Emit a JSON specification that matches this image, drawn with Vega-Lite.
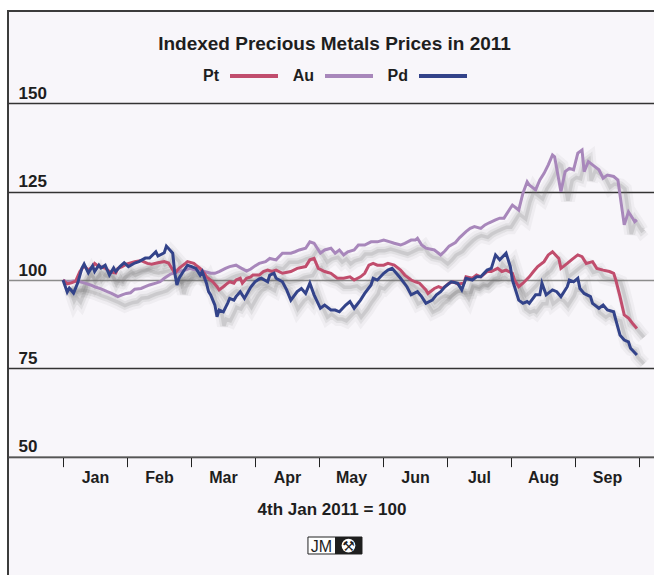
{
  "$schema": "https://vega.github.io/schema/vega-lite/v6.json",
  "width": 647,
  "height": 566,
  "autosize": {"type": "none"},
  "padding": {"left": 8, "top": 11, "right": 0, "bottom": 0},
  "background": "#ffffff",
  "config": {
    "font": "Liberation Sans",
    "view": {"fill": "#f8f6fa", "stroke": "#3c3c3c", "strokeWidth": 2}
  },
  "title": {
    "text": "Indexed Precious Metals Prices in 2011",
    "fontSize": 19,
    "fontWeight": "bold",
    "color": "#1e1e1e",
    "anchor": "middle",
    "frame": "group",
    "baseline": "alphabetic",
    "offset": -58,
    "dx": 3
  },
  "datasets": {
    "metals": [
      {"date": "2011-01-01", "metal": "Au", "index": 100},
      {"date": "2011-01-03", "metal": "Au", "index": 99.4},
      {"date": "2011-01-06", "metal": "Au", "index": 99.7},
      {"date": "2011-01-09", "metal": "Au", "index": 99.5},
      {"date": "2011-01-11", "metal": "Au", "index": 99.2},
      {"date": "2011-01-14", "metal": "Au", "index": 98.6},
      {"date": "2011-01-16", "metal": "Au", "index": 98.1},
      {"date": "2011-01-19", "metal": "Au", "index": 97.5},
      {"date": "2011-01-22", "metal": "Au", "index": 96.7},
      {"date": "2011-01-24", "metal": "Au", "index": 96.2},
      {"date": "2011-01-27", "metal": "Au", "index": 95.3},
      {"date": "2011-01-29", "metal": "Au", "index": 95.8},
      {"date": "2011-01-31", "metal": "Au", "index": 96.2},
      {"date": "2011-02-02", "metal": "Au", "index": 96.4},
      {"date": "2011-02-04", "metal": "Au", "index": 97.4},
      {"date": "2011-02-07", "metal": "Au", "index": 97.6},
      {"date": "2011-02-09", "metal": "Au", "index": 98.1},
      {"date": "2011-02-11", "metal": "Au", "index": 98.6},
      {"date": "2011-02-14", "metal": "Au", "index": 99.1},
      {"date": "2011-02-16", "metal": "Au", "index": 99.5},
      {"date": "2011-02-18", "metal": "Au", "index": 100.5},
      {"date": "2011-02-21", "metal": "Au", "index": 101.7},
      {"date": "2011-02-25", "metal": "Au", "index": 102.4},
      {"date": "2011-02-28", "metal": "Au", "index": 102.8},
      {"date": "2011-03-02", "metal": "Au", "index": 103.3},
      {"date": "2011-03-05", "metal": "Au", "index": 102.8},
      {"date": "2011-03-07", "metal": "Au", "index": 102.8},
      {"date": "2011-03-09", "metal": "Au", "index": 102.4},
      {"date": "2011-03-12", "metal": "Au", "index": 101.9},
      {"date": "2011-03-14", "metal": "Au", "index": 101.9},
      {"date": "2011-03-16", "metal": "Au", "index": 102.4},
      {"date": "2011-03-19", "metal": "Au", "index": 103.3},
      {"date": "2011-03-21", "metal": "Au", "index": 103.8},
      {"date": "2011-03-24", "metal": "Au", "index": 104.2},
      {"date": "2011-03-26", "metal": "Au", "index": 103.5},
      {"date": "2011-03-29", "metal": "Au", "index": 102.5},
      {"date": "2011-03-31", "metal": "Au", "index": 103.1},
      {"date": "2011-04-02", "metal": "Au", "index": 104.0},
      {"date": "2011-04-04", "metal": "Au", "index": 104.7},
      {"date": "2011-04-07", "metal": "Au", "index": 105.2},
      {"date": "2011-04-09", "metal": "Au", "index": 106.1},
      {"date": "2011-04-12", "metal": "Au", "index": 105.7},
      {"date": "2011-04-15", "metal": "Au", "index": 107.6},
      {"date": "2011-04-19", "metal": "Au", "index": 107.6},
      {"date": "2011-04-21", "metal": "Au", "index": 108.0},
      {"date": "2011-04-23", "metal": "Au", "index": 108.5},
      {"date": "2011-04-26", "metal": "Au", "index": 109.0},
      {"date": "2011-04-28", "metal": "Au", "index": 110.8},
      {"date": "2011-04-30", "metal": "Au", "index": 110.4},
      {"date": "2011-05-03", "metal": "Au", "index": 107.6},
      {"date": "2011-05-05", "metal": "Au", "index": 108.5},
      {"date": "2011-05-08", "metal": "Au", "index": 109.0},
      {"date": "2011-05-10", "metal": "Au", "index": 107.6},
      {"date": "2011-05-12", "metal": "Au", "index": 108.5},
      {"date": "2011-05-14", "metal": "Au", "index": 107.1},
      {"date": "2011-05-16", "metal": "Au", "index": 108.0},
      {"date": "2011-05-19", "metal": "Au", "index": 108.5},
      {"date": "2011-05-21", "metal": "Au", "index": 109.9},
      {"date": "2011-05-24", "metal": "Au", "index": 109.9},
      {"date": "2011-05-27", "metal": "Au", "index": 110.8},
      {"date": "2011-05-30", "metal": "Au", "index": 110.8},
      {"date": "2011-06-02", "metal": "Au", "index": 111.3},
      {"date": "2011-06-05", "metal": "Au", "index": 110.8},
      {"date": "2011-06-07", "metal": "Au", "index": 110.4},
      {"date": "2011-06-10", "metal": "Au", "index": 109.9},
      {"date": "2011-06-12", "metal": "Au", "index": 110.4},
      {"date": "2011-06-15", "metal": "Au", "index": 111.3},
      {"date": "2011-06-17", "metal": "Au", "index": 111.3},
      {"date": "2011-06-18", "metal": "Au", "index": 111.8},
      {"date": "2011-06-20", "metal": "Au", "index": 109.9},
      {"date": "2011-06-22", "metal": "Au", "index": 109.0},
      {"date": "2011-06-26", "metal": "Au", "index": 108.5},
      {"date": "2011-06-29", "metal": "Au", "index": 107.1},
      {"date": "2011-07-01", "metal": "Au", "index": 108.2},
      {"date": "2011-07-03", "metal": "Au", "index": 109.6},
      {"date": "2011-07-06", "metal": "Au", "index": 110.6},
      {"date": "2011-07-08", "metal": "Au", "index": 112.0},
      {"date": "2011-07-11", "metal": "Au", "index": 113.7},
      {"date": "2011-07-13", "metal": "Au", "index": 114.6},
      {"date": "2011-07-15", "metal": "Au", "index": 115.1},
      {"date": "2011-07-18", "metal": "Au", "index": 114.6},
      {"date": "2011-07-20", "metal": "Au", "index": 115.6},
      {"date": "2011-07-22", "metal": "Au", "index": 116.2},
      {"date": "2011-07-25", "metal": "Au", "index": 117.0},
      {"date": "2011-07-27", "metal": "Au", "index": 117.5},
      {"date": "2011-07-29", "metal": "Au", "index": 117.5},
      {"date": "2011-08-01", "metal": "Au", "index": 120.3},
      {"date": "2011-08-02", "metal": "Au", "index": 121.2},
      {"date": "2011-08-05", "metal": "Au", "index": 119.8},
      {"date": "2011-08-07", "metal": "Au", "index": 124.6},
      {"date": "2011-08-09", "metal": "Au", "index": 127.8},
      {"date": "2011-08-10", "metal": "Au", "index": 126.9},
      {"date": "2011-08-13", "metal": "Au", "index": 125.5},
      {"date": "2011-08-15", "metal": "Au", "index": 128.3},
      {"date": "2011-08-17", "metal": "Au", "index": 130.2},
      {"date": "2011-08-19", "metal": "Au", "index": 132.6},
      {"date": "2011-08-21", "metal": "Au", "index": 135.4},
      {"date": "2011-08-22", "metal": "Au", "index": 134.9},
      {"date": "2011-08-25", "metal": "Au", "index": 125.0},
      {"date": "2011-08-27", "metal": "Au", "index": 130.7},
      {"date": "2011-08-29", "metal": "Au", "index": 131.6},
      {"date": "2011-08-31", "metal": "Au", "index": 131.2},
      {"date": "2011-09-02", "metal": "Au", "index": 135.9},
      {"date": "2011-09-04", "metal": "Au", "index": 136.8},
      {"date": "2011-09-05", "metal": "Au", "index": 130.7},
      {"date": "2011-09-07", "metal": "Au", "index": 133.5},
      {"date": "2011-09-09", "metal": "Au", "index": 132.6},
      {"date": "2011-09-12", "metal": "Au", "index": 131.2},
      {"date": "2011-09-14", "metal": "Au", "index": 128.8},
      {"date": "2011-09-16", "metal": "Au", "index": 129.7},
      {"date": "2011-09-19", "metal": "Au", "index": 129.3},
      {"date": "2011-09-21", "metal": "Au", "index": 128.3},
      {"date": "2011-09-22", "metal": "Au", "index": 124.1},
      {"date": "2011-09-24", "metal": "Au", "index": 115.6},
      {"date": "2011-09-26", "metal": "Au", "index": 119.3},
      {"date": "2011-09-27", "metal": "Au", "index": 118.4},
      {"date": "2011-09-29", "metal": "Au", "index": 116.5},
      {"date": "2011-09-30", "metal": "Au", "index": 117.0},
      {"date": "2011-01-01", "metal": "Pt", "index": 100},
      {"date": "2011-01-03", "metal": "Pt", "index": 98.9},
      {"date": "2011-01-05", "metal": "Pt", "index": 99.2},
      {"date": "2011-01-07", "metal": "Pt", "index": 99.7},
      {"date": "2011-01-09", "metal": "Pt", "index": 102.4},
      {"date": "2011-01-11", "metal": "Pt", "index": 104.0},
      {"date": "2011-01-13", "metal": "Pt", "index": 102.8},
      {"date": "2011-01-15", "metal": "Pt", "index": 103.8},
      {"date": "2011-01-16", "metal": "Pt", "index": 104.7},
      {"date": "2011-01-18", "metal": "Pt", "index": 103.8},
      {"date": "2011-01-21", "metal": "Pt", "index": 103.4},
      {"date": "2011-01-23", "metal": "Pt", "index": 102.4},
      {"date": "2011-01-26", "metal": "Pt", "index": 102.0},
      {"date": "2011-01-27", "metal": "Pt", "index": 103.3},
      {"date": "2011-01-29", "metal": "Pt", "index": 103.8},
      {"date": "2011-01-31", "metal": "Pt", "index": 104.5},
      {"date": "2011-02-04", "metal": "Pt", "index": 105.2},
      {"date": "2011-02-07", "metal": "Pt", "index": 105.5},
      {"date": "2011-02-10", "metal": "Pt", "index": 104.7},
      {"date": "2011-02-12", "metal": "Pt", "index": 104.5},
      {"date": "2011-02-15", "metal": "Pt", "index": 104.9},
      {"date": "2011-02-18", "metal": "Pt", "index": 105.2},
      {"date": "2011-02-20", "metal": "Pt", "index": 104.8},
      {"date": "2011-02-23", "metal": "Pt", "index": 101.9},
      {"date": "2011-02-25", "metal": "Pt", "index": 103.3},
      {"date": "2011-02-28", "metal": "Pt", "index": 104.7},
      {"date": "2011-03-01", "metal": "Pt", "index": 105.2},
      {"date": "2011-03-04", "metal": "Pt", "index": 104.7},
      {"date": "2011-03-05", "metal": "Pt", "index": 104.2},
      {"date": "2011-03-07", "metal": "Pt", "index": 103.3},
      {"date": "2011-03-09", "metal": "Pt", "index": 101.9},
      {"date": "2011-03-10", "metal": "Pt", "index": 100.9},
      {"date": "2011-03-13", "metal": "Pt", "index": 99.5},
      {"date": "2011-03-15", "metal": "Pt", "index": 98.1},
      {"date": "2011-03-16", "metal": "Pt", "index": 97.2},
      {"date": "2011-03-18", "metal": "Pt", "index": 98.1},
      {"date": "2011-03-20", "metal": "Pt", "index": 99.1},
      {"date": "2011-03-21", "metal": "Pt", "index": 99.5},
      {"date": "2011-03-23", "metal": "Pt", "index": 99.1},
      {"date": "2011-03-24", "metal": "Pt", "index": 100},
      {"date": "2011-03-26", "metal": "Pt", "index": 100.5},
      {"date": "2011-03-27", "metal": "Pt", "index": 99.1},
      {"date": "2011-03-29", "metal": "Pt", "index": 100.5},
      {"date": "2011-03-31", "metal": "Pt", "index": 100.9},
      {"date": "2011-04-01", "metal": "Pt", "index": 101.4},
      {"date": "2011-04-04", "metal": "Pt", "index": 101.4},
      {"date": "2011-04-06", "metal": "Pt", "index": 102.4},
      {"date": "2011-04-08", "metal": "Pt", "index": 102.8},
      {"date": "2011-04-10", "metal": "Pt", "index": 102.4},
      {"date": "2011-04-12", "metal": "Pt", "index": 102.8},
      {"date": "2011-04-15", "metal": "Pt", "index": 101.9},
      {"date": "2011-04-19", "metal": "Pt", "index": 102.4},
      {"date": "2011-04-22", "metal": "Pt", "index": 103.3},
      {"date": "2011-04-26", "metal": "Pt", "index": 103.8},
      {"date": "2011-04-28", "metal": "Pt", "index": 105.7},
      {"date": "2011-04-30", "metal": "Pt", "index": 106.1},
      {"date": "2011-05-02", "metal": "Pt", "index": 103.3},
      {"date": "2011-05-05", "metal": "Pt", "index": 102.4},
      {"date": "2011-05-08", "metal": "Pt", "index": 101.9},
      {"date": "2011-05-11", "metal": "Pt", "index": 100.5},
      {"date": "2011-05-14", "metal": "Pt", "index": 100.5},
      {"date": "2011-05-17", "metal": "Pt", "index": 100.9},
      {"date": "2011-05-19", "metal": "Pt", "index": 100},
      {"date": "2011-05-22", "metal": "Pt", "index": 100.9},
      {"date": "2011-05-24", "metal": "Pt", "index": 101.9},
      {"date": "2011-05-26", "metal": "Pt", "index": 104.2},
      {"date": "2011-05-28", "metal": "Pt", "index": 104.7},
      {"date": "2011-05-30", "metal": "Pt", "index": 104.2},
      {"date": "2011-06-02", "metal": "Pt", "index": 104.2},
      {"date": "2011-06-04", "metal": "Pt", "index": 104.7},
      {"date": "2011-06-07", "metal": "Pt", "index": 104.2},
      {"date": "2011-06-10", "metal": "Pt", "index": 102.8},
      {"date": "2011-06-12", "metal": "Pt", "index": 101.4},
      {"date": "2011-06-15", "metal": "Pt", "index": 100},
      {"date": "2011-06-17", "metal": "Pt", "index": 99.5},
      {"date": "2011-06-19", "metal": "Pt", "index": 99.1},
      {"date": "2011-06-22", "metal": "Pt", "index": 97.2},
      {"date": "2011-06-23", "metal": "Pt", "index": 96.2},
      {"date": "2011-06-26", "metal": "Pt", "index": 97.6},
      {"date": "2011-06-28", "metal": "Pt", "index": 98.1},
      {"date": "2011-06-30", "metal": "Pt", "index": 97.6},
      {"date": "2011-07-03", "metal": "Pt", "index": 99.1},
      {"date": "2011-07-05", "metal": "Pt", "index": 99.5},
      {"date": "2011-07-07", "metal": "Pt", "index": 98.9},
      {"date": "2011-07-10", "metal": "Pt", "index": 99.1},
      {"date": "2011-07-11", "metal": "Pt", "index": 100.9},
      {"date": "2011-07-14", "metal": "Pt", "index": 100.5},
      {"date": "2011-07-16", "metal": "Pt", "index": 101.4},
      {"date": "2011-07-18", "metal": "Pt", "index": 100.9},
      {"date": "2011-07-21", "metal": "Pt", "index": 102.4},
      {"date": "2011-07-23", "metal": "Pt", "index": 102.4},
      {"date": "2011-07-26", "metal": "Pt", "index": 103.3},
      {"date": "2011-07-28", "metal": "Pt", "index": 102.4},
      {"date": "2011-07-30", "metal": "Pt", "index": 102.8},
      {"date": "2011-08-02", "metal": "Pt", "index": 101.9},
      {"date": "2011-08-03", "metal": "Pt", "index": 100},
      {"date": "2011-08-05", "metal": "Pt", "index": 98.1},
      {"date": "2011-08-07", "metal": "Pt", "index": 99.1},
      {"date": "2011-08-10", "metal": "Pt", "index": 100.9},
      {"date": "2011-08-12", "metal": "Pt", "index": 102.4},
      {"date": "2011-08-14", "metal": "Pt", "index": 103.8},
      {"date": "2011-08-17", "metal": "Pt", "index": 105.2},
      {"date": "2011-08-19", "metal": "Pt", "index": 107.1},
      {"date": "2011-08-21", "metal": "Pt", "index": 108.0},
      {"date": "2011-08-24", "metal": "Pt", "index": 106.1},
      {"date": "2011-08-25", "metal": "Pt", "index": 103.3},
      {"date": "2011-08-28", "metal": "Pt", "index": 104.7},
      {"date": "2011-08-30", "metal": "Pt", "index": 105.7},
      {"date": "2011-09-02", "metal": "Pt", "index": 107.1},
      {"date": "2011-09-04", "metal": "Pt", "index": 106.6},
      {"date": "2011-09-06", "metal": "Pt", "index": 104.7},
      {"date": "2011-09-09", "metal": "Pt", "index": 105.2},
      {"date": "2011-09-11", "metal": "Pt", "index": 103.3},
      {"date": "2011-09-14", "metal": "Pt", "index": 102.8},
      {"date": "2011-09-17", "metal": "Pt", "index": 102.4},
      {"date": "2011-09-19", "metal": "Pt", "index": 101.9},
      {"date": "2011-09-20", "metal": "Pt", "index": 100},
      {"date": "2011-09-22", "metal": "Pt", "index": 95.3},
      {"date": "2011-09-24", "metal": "Pt", "index": 90.1},
      {"date": "2011-09-26", "metal": "Pt", "index": 89.2},
      {"date": "2011-09-28", "metal": "Pt", "index": 87.7},
      {"date": "2011-09-30", "metal": "Pt", "index": 86.3},
      {"date": "2011-01-01", "metal": "Pd", "index": 100},
      {"date": "2011-01-03", "metal": "Pd", "index": 96.6},
      {"date": "2011-01-04", "metal": "Pd", "index": 97.7},
      {"date": "2011-01-06", "metal": "Pd", "index": 96.3},
      {"date": "2011-01-08", "metal": "Pd", "index": 99.2},
      {"date": "2011-01-10", "metal": "Pd", "index": 103.4},
      {"date": "2011-01-11", "metal": "Pd", "index": 104.5},
      {"date": "2011-01-13", "metal": "Pd", "index": 102.0},
      {"date": "2011-01-15", "metal": "Pd", "index": 104.0},
      {"date": "2011-01-16", "metal": "Pd", "index": 102.4},
      {"date": "2011-01-18", "metal": "Pd", "index": 104.2},
      {"date": "2011-01-19", "metal": "Pd", "index": 103.4},
      {"date": "2011-01-21", "metal": "Pd", "index": 104.2},
      {"date": "2011-01-23", "metal": "Pd", "index": 101.4},
      {"date": "2011-01-25", "metal": "Pd", "index": 103.4},
      {"date": "2011-01-26", "metal": "Pd", "index": 102.4},
      {"date": "2011-01-28", "metal": "Pd", "index": 103.8},
      {"date": "2011-01-30", "metal": "Pd", "index": 104.9},
      {"date": "2011-02-01", "metal": "Pd", "index": 103.8},
      {"date": "2011-02-04", "metal": "Pd", "index": 104.8},
      {"date": "2011-02-06", "metal": "Pd", "index": 105.2},
      {"date": "2011-02-09", "metal": "Pd", "index": 106.2},
      {"date": "2011-02-11", "metal": "Pd", "index": 106.2},
      {"date": "2011-02-14", "metal": "Pd", "index": 108.0},
      {"date": "2011-02-15", "metal": "Pd", "index": 106.8},
      {"date": "2011-02-18", "metal": "Pd", "index": 107.7},
      {"date": "2011-02-19", "metal": "Pd", "index": 109.6},
      {"date": "2011-02-22", "metal": "Pd", "index": 107.6},
      {"date": "2011-02-23", "metal": "Pd", "index": 101.9},
      {"date": "2011-02-24", "metal": "Pd", "index": 98.6},
      {"date": "2011-02-25", "metal": "Pd", "index": 100.5},
      {"date": "2011-02-27", "metal": "Pd", "index": 102.4},
      {"date": "2011-03-01", "metal": "Pd", "index": 104.2},
      {"date": "2011-03-03", "metal": "Pd", "index": 103.8},
      {"date": "2011-03-05", "metal": "Pd", "index": 103.3},
      {"date": "2011-03-07", "metal": "Pd", "index": 101.4},
      {"date": "2011-03-08", "metal": "Pd", "index": 102.4},
      {"date": "2011-03-10", "metal": "Pd", "index": 99.1},
      {"date": "2011-03-11", "metal": "Pd", "index": 96.7},
      {"date": "2011-03-12", "metal": "Pd", "index": 95.8},
      {"date": "2011-03-14", "metal": "Pd", "index": 92.9},
      {"date": "2011-03-15", "metal": "Pd", "index": 89.6},
      {"date": "2011-03-16", "metal": "Pd", "index": 91.5},
      {"date": "2011-03-18", "metal": "Pd", "index": 91.0},
      {"date": "2011-03-20", "metal": "Pd", "index": 93.4},
      {"date": "2011-03-21", "metal": "Pd", "index": 94.8},
      {"date": "2011-03-23", "metal": "Pd", "index": 94.3},
      {"date": "2011-03-24", "metal": "Pd", "index": 95.3},
      {"date": "2011-03-26", "metal": "Pd", "index": 96.7},
      {"date": "2011-03-28", "metal": "Pd", "index": 94.8},
      {"date": "2011-03-31", "metal": "Pd", "index": 98.0},
      {"date": "2011-04-02", "metal": "Pd", "index": 99.5},
      {"date": "2011-04-04", "metal": "Pd", "index": 100.3},
      {"date": "2011-04-05", "metal": "Pd", "index": 100.5},
      {"date": "2011-04-08", "metal": "Pd", "index": 99.5},
      {"date": "2011-04-09", "metal": "Pd", "index": 101.4},
      {"date": "2011-04-11", "metal": "Pd", "index": 101.9},
      {"date": "2011-04-12", "metal": "Pd", "index": 100.5},
      {"date": "2011-04-15", "metal": "Pd", "index": 99.5},
      {"date": "2011-04-17", "metal": "Pd", "index": 97.2},
      {"date": "2011-04-19", "metal": "Pd", "index": 94.3},
      {"date": "2011-04-22", "metal": "Pd", "index": 96.7},
      {"date": "2011-04-24", "metal": "Pd", "index": 97.6},
      {"date": "2011-04-26", "metal": "Pd", "index": 96.2},
      {"date": "2011-04-28", "metal": "Pd", "index": 99.1},
      {"date": "2011-04-30", "metal": "Pd", "index": 95.8},
      {"date": "2011-05-03", "metal": "Pd", "index": 92.0},
      {"date": "2011-05-05", "metal": "Pd", "index": 92.9},
      {"date": "2011-05-08", "metal": "Pd", "index": 91.5},
      {"date": "2011-05-10", "metal": "Pd", "index": 91.5},
      {"date": "2011-05-12", "metal": "Pd", "index": 91.0},
      {"date": "2011-05-15", "metal": "Pd", "index": 92.9},
      {"date": "2011-05-17", "metal": "Pd", "index": 93.9},
      {"date": "2011-05-19", "metal": "Pd", "index": 92.0},
      {"date": "2011-05-22", "metal": "Pd", "index": 94.3},
      {"date": "2011-05-24", "metal": "Pd", "index": 96.2},
      {"date": "2011-05-27", "metal": "Pd", "index": 98.6},
      {"date": "2011-05-28", "metal": "Pd", "index": 100.5},
      {"date": "2011-05-30", "metal": "Pd", "index": 100},
      {"date": "2011-06-02", "metal": "Pd", "index": 101.9},
      {"date": "2011-06-04", "metal": "Pd", "index": 102.8},
      {"date": "2011-06-06", "metal": "Pd", "index": 103.3},
      {"date": "2011-06-08", "metal": "Pd", "index": 101.9},
      {"date": "2011-06-10", "metal": "Pd", "index": 100.5},
      {"date": "2011-06-13", "metal": "Pd", "index": 98.1},
      {"date": "2011-06-15", "metal": "Pd", "index": 95.8},
      {"date": "2011-06-18", "metal": "Pd", "index": 96.7},
      {"date": "2011-06-20", "metal": "Pd", "index": 95.3},
      {"date": "2011-06-22", "metal": "Pd", "index": 93.4},
      {"date": "2011-06-25", "metal": "Pd", "index": 94.3},
      {"date": "2011-06-27", "metal": "Pd", "index": 95.8},
      {"date": "2011-06-29", "metal": "Pd", "index": 96.7},
      {"date": "2011-07-01", "metal": "Pd", "index": 98.1},
      {"date": "2011-07-04", "metal": "Pd", "index": 99.5},
      {"date": "2011-07-07", "metal": "Pd", "index": 99.1},
      {"date": "2011-07-09", "metal": "Pd", "index": 97.2},
      {"date": "2011-07-11", "metal": "Pd", "index": 100.5},
      {"date": "2011-07-14", "metal": "Pd", "index": 100},
      {"date": "2011-07-16", "metal": "Pd", "index": 100.9},
      {"date": "2011-07-18", "metal": "Pd", "index": 100.9},
      {"date": "2011-07-21", "metal": "Pd", "index": 102.8},
      {"date": "2011-07-23", "metal": "Pd", "index": 103.3},
      {"date": "2011-07-25", "metal": "Pd", "index": 107.1},
      {"date": "2011-07-27", "metal": "Pd", "index": 105.7},
      {"date": "2011-07-30", "metal": "Pd", "index": 107.6},
      {"date": "2011-08-01", "metal": "Pd", "index": 103.8},
      {"date": "2011-08-02", "metal": "Pd", "index": 100},
      {"date": "2011-08-05", "metal": "Pd", "index": 94.3},
      {"date": "2011-08-07", "metal": "Pd", "index": 93.4},
      {"date": "2011-08-09", "metal": "Pd", "index": 93.9},
      {"date": "2011-08-10", "metal": "Pd", "index": 93.4},
      {"date": "2011-08-13", "metal": "Pd", "index": 95.8},
      {"date": "2011-08-15", "metal": "Pd", "index": 95.8},
      {"date": "2011-08-16", "metal": "Pd", "index": 99.1},
      {"date": "2011-08-18", "metal": "Pd", "index": 95.8},
      {"date": "2011-08-21", "metal": "Pd", "index": 97.2},
      {"date": "2011-08-23", "metal": "Pd", "index": 96.7},
      {"date": "2011-08-25", "metal": "Pd", "index": 95.3},
      {"date": "2011-08-28", "metal": "Pd", "index": 98.1},
      {"date": "2011-08-29", "metal": "Pd", "index": 100},
      {"date": "2011-08-31", "metal": "Pd", "index": 99.5},
      {"date": "2011-09-02", "metal": "Pd", "index": 100.5},
      {"date": "2011-09-03", "metal": "Pd", "index": 97.6},
      {"date": "2011-09-05", "metal": "Pd", "index": 96.2},
      {"date": "2011-09-08", "metal": "Pd", "index": 95.3},
      {"date": "2011-09-09", "metal": "Pd", "index": 93.4},
      {"date": "2011-09-12", "metal": "Pd", "index": 92.0},
      {"date": "2011-09-14", "metal": "Pd", "index": 92.9},
      {"date": "2011-09-16", "metal": "Pd", "index": 91.5},
      {"date": "2011-09-19", "metal": "Pd", "index": 91.0},
      {"date": "2011-09-20", "metal": "Pd", "index": 88.7},
      {"date": "2011-09-22", "metal": "Pd", "index": 84.4},
      {"date": "2011-09-24", "metal": "Pd", "index": 83.0},
      {"date": "2011-09-26", "metal": "Pd", "index": 82.5},
      {"date": "2011-09-27", "metal": "Pd", "index": 80.7},
      {"date": "2011-09-30", "metal": "Pd", "index": 78.8}
    ],
    "logo": [
      {"left": "JM", "right": "⚒"}
    ]
  },
  "layer": [
    {
      "data": {"name": "metals"},
      "encoding": {
        "x": {
          "field": "date",
          "type": "temporal",
          "scale": {
            "type": "utc",
            "domain": [
              {"year": 2010, "month": 12, "date": 5, "hours": 22, "minutes": 22, "utc": true},
              {"year": 2011, "month": 10, "date": 8, "hours": 14, "utc": true}
            ]
          },
          "axis": {
            "values": [
              {"year": 2011, "month": 1, "date": 1, "utc": true},
              {"year": 2011, "month": 1, "date": 31, "hours": 8, "utc": true},
              {"year": 2011, "month": 3, "date": 2, "hours": 16, "utc": true},
              {"year": 2011, "month": 4, "date": 2, "utc": true},
              {"year": 2011, "month": 5, "date": 2, "hours": 8, "utc": true},
              {"year": 2011, "month": 6, "date": 1, "hours": 16, "utc": true},
              {"year": 2011, "month": 7, "date": 2, "utc": true},
              {"year": 2011, "month": 8, "date": 1, "hours": 8, "utc": true},
              {"year": 2011, "month": 8, "date": 31, "hours": 16, "utc": true},
              {"year": 2011, "month": 10, "date": 1, "utc": true}
            ],
            "title": "4th Jan 2011 = 100",
            "titleFontSize": 17,
            "titleFontWeight": "bold",
            "titleColor": "#1e1e1e",
            "titlePadding": 16,
            "offset": -120.35,
            "grid": false,
            "domain": true,
            "domainColor": "#555555",
            "domainWidth": 1.5,
            "ticks": true,
            "tickSize": 10,
            "tickColor": "#222222",
            "tickWidth": 1,
            "labelOffset": 32,
            "labelExpr": "(utcmonth(datum.value) == 9 && utcdate(datum.value) == 1) ? '' : utcFormat(datum.value + 15 * 86400000, '%b')",
            "labelFontSize": 16,
            "labelFontWeight": "bold",
            "labelColor": "#1e1e1e",
            "labelPadding": 3,
            "labelFlush": false,
            "labelOverlap": false,
            "labelBound": false
          }
        },
        "y": {
          "field": "index",
          "type": "quantitative",
          "scale": {"domain": [15.94, 176.14], "nice": false, "zero": false},
          "axis": {
            "values": [50, 75, 100, 125, 150],
            "title": null,
            "domain": false,
            "ticks": false,
            "grid": true,
            "gridColor": {"condition": {"test": "datum.value === 100", "value": "#8c8c8c"}, "value": "#333333"},
            "gridWidth": 1.5,
            "labelAlign": "left",
            "labelBaseline": "alphabetic",
            "labelPadding": -10,
            "labelOffset": -5,
            "labelFontSize": 17,
            "labelFontWeight": "bold",
            "labelColor": "#1e1e1e",
            "labelFlush": false,
            "labelOverlap": false,
            "labelBound": false
          }
        }
      },
      "layer": [
        {
          "mark": {"type": "line", "stroke": "#6e6e6e", "strokeWidth": 14, "strokeOpacity": 0.06, "xOffset": 7, "yOffset": 9},
          "encoding": {"detail": {"field": "metal", "type": "nominal"}}
        },
        {
          "mark": {"type": "line", "stroke": "#6e6e6e", "strokeWidth": 8, "strokeOpacity": 0.11, "xOffset": 7, "yOffset": 9},
          "encoding": {"detail": {"field": "metal", "type": "nominal"}}
        },
        {
          "mark": {"type": "line", "stroke": "#6e6e6e", "strokeWidth": 3.5, "strokeOpacity": 0.18, "xOffset": 7, "yOffset": 9},
          "encoding": {"detail": {"field": "metal", "type": "nominal"}}
        },
        {
          "mark": {"type": "line", "strokeWidth": 3},
          "encoding": {
            "color": {
              "field": "metal",
              "type": "nominal",
              "scale": {"domain": ["Pt", "Au", "Pd"], "range": ["#c14d6d", "#a887bb", "#33438a"]},
              "legend": {
                "title": null,
                "orient": "none",
                "legendX": 220,
                "legendY": 39,
                "direction": "horizontal",
                "padding": 0,
                "symbolType": "stroke",
                "symbolSize": 2304,
                "symbolStrokeWidth": 4,
                "labelAlign": "right",
                "labelOffset": -61,
                "labelFontSize": 16,
                "labelFontWeight": "bold",
                "labelColor": "#1e1e1e",
                "columnPadding": 6
              }
            }
          }
        }
      ]
    },
    {
      "data": {"name": "logo"},
      "mark": {"type": "rect", "fill": "#ffffff", "stroke": "#222222", "strokeWidth": 1},
      "encoding": {
        "x": {"datum": 1303871040000, "type": "temporal"},
        "x2": {"datum": 1306083744000},
        "y": {"datum": 27.26, "type": "quantitative"},
        "y2": {"datum": 22.45}
      }
    },
    {
      "data": {"name": "logo"},
      "mark": {"type": "rect", "fill": "#1e1e1e"},
      "encoding": {
        "x": {"datum": 1304978688000, "type": "temporal"},
        "x2": {"datum": 1306083744000},
        "y": {"datum": 27.26, "type": "quantitative"},
        "y2": {"datum": 22.45}
      }
    },
    {
      "data": {"name": "logo"},
      "mark": {"type": "text", "font": "Liberation Sans", "fontSize": 16, "color": "#1e1e1e", "baseline": "middle", "align": "center", "dy": 1},
      "encoding": {
        "x": {"datum": 1304425728000, "type": "temporal"},
        "y": {"datum": 24.85, "type": "quantitative"},
        "text": {"field": "left"}
      }
    },
    {
      "data": {"name": "logo"},
      "mark": {"type": "point", "filled": true, "color": "#ffffff", "opacity": 1, "size": 190, "shape": "circle"},
      "encoding": {
        "x": {"datum": 1305530784000, "type": "temporal"},
        "y": {"datum": 24.85, "type": "quantitative"}
      }
    },
    {
      "data": {"name": "logo"},
      "mark": {"type": "text", "font": "DejaVu Sans", "fontSize": 14, "color": "#1e1e1e", "baseline": "middle", "align": "center", "dy": 1},
      "encoding": {
        "x": {"datum": 1305530784000, "type": "temporal"},
        "y": {"datum": 24.85, "type": "quantitative"},
        "text": {"field": "right"}
      }
    }
  ]
}
